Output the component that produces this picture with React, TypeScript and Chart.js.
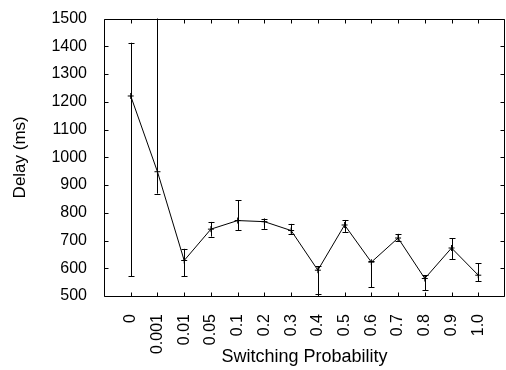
import React, { useEffect, useRef } from "react";
import { Chart, registerables } from "chart.js";

Chart.register(...registerables);

const categories = ["0", "0.001", "0.01", "0.05", "0.1", "0.2", "0.3", "0.4", "0.5", "0.6", "0.7", "0.8", "0.9", "1.0"];
const delay = [1221, 948, 628, 741, 772, 768, 736, 593, 756, 622, 709, 563, 673, 575];
const errLow = [571, 869, 571, 714, 738, 742, 724, 508, 731, 531, 700, 520, 632, 554];
const errHigh = [1413, 1560, 670, 767, 845, 779, 760, 607, 774, 627, 724, 574, 709, 618];
const yTicks = [500, 600, 700, 800, 900, 1000, 1100, 1200, 1300, 1400, 1500];

const FONT = "'Liberation Sans', Arial, Helvetica, sans-serif";

const framePlugin = {
  id: "frameTicks",
  afterDatasetsDraw(chart: any) {
    const { ctx, chartArea: a, scales } = chart;
    const xs = scales.x;
    const ys = scales.y;
    ctx.save();
    ctx.beginPath();
    ctx.rect(a.left, a.top, a.right - a.left, a.bottom - a.top);
    ctx.clip();
    ctx.strokeStyle = "#000";
    ctx.lineWidth = 1;
    const cap = 3;
    categories.forEach((_, i) => {
      const x = Math.round(xs.getPixelForValue(i)) + 0.5;
      const yl = ys.getPixelForValue(errLow[i]);
      const yh = ys.getPixelForValue(errHigh[i]);
      ctx.beginPath();
      ctx.moveTo(x, yl);
      ctx.lineTo(x, yh);
      ctx.moveTo(x - cap, Math.round(yl) + 0.5);
      ctx.lineTo(x + cap, Math.round(yl) + 0.5);
      ctx.moveTo(x - cap, Math.round(yh) + 0.5);
      ctx.lineTo(x + cap, Math.round(yh) + 0.5);
      ctx.stroke();
    });
    ctx.restore();

    ctx.save();
    ctx.strokeStyle = "#000";
    ctx.lineWidth = 1;
    const L = Math.round(a.left) + 0.5;
    const R = Math.round(a.right) - 0.5;
    const T = Math.round(a.top) + 0.5;
    const B = Math.round(a.bottom) + 0.5;
    ctx.beginPath();
    ctx.rect(L, T, R - L, B - T);
    const tl = 4;
    yTicks.forEach((v) => {
      const y = Math.round(ys.getPixelForValue(v)) + 0.5;
      ctx.moveTo(L, y);
      ctx.lineTo(L + tl, y);
      ctx.moveTo(R, y);
      ctx.lineTo(R - tl, y);
    });
    categories.forEach((_, i) => {
      const x = Math.round(xs.getPixelForValue(i)) + 0.5;
      ctx.moveTo(x, B);
      ctx.lineTo(x, B - tl);
      ctx.moveTo(x, T);
      ctx.lineTo(x, T + tl);
    });
    ctx.stroke();
    ctx.restore();
  },
};

export default function App() {
  const ref = useRef<HTMLCanvasElement>(null);
  useEffect(() => {
    document.body.style.margin = "0";
    document.body.style.overflow = "hidden";
    const canvas = ref.current;
    if (!canvas) return;
    const chart = new Chart(canvas, {
      type: "line",
      data: {
        datasets: [
          {
            data: delay.map((v, i) => ({ x: i, y: v })),
            borderColor: "#000",
            borderWidth: 1,
            pointStyle: "cross",
            pointRadius: 3,
            pointBorderColor: "#000",
            pointBorderWidth: 1,
            pointBackgroundColor: "#000",
            tension: 0,
            fill: false,
          },
        ],
      },
      options: {
        responsive: false,
        animation: false,
        events: [],
        layout: { padding: { left: 0, right: 3, top: 14, bottom: 0 } },
        plugins: { legend: { display: false }, tooltip: { enabled: false } },
        scales: {
          x: {
            type: "linear",
            min: -1,
            max: 14,
            grid: { display: false },
            border: { display: false },
            afterBuildTicks: (scale: any) => {
              scale.ticks = categories.map((_, i) => ({ value: i }));
            },
            afterFit: (scale: any) => {
              scale.height = 74;
            },
            ticks: {
              autoSkip: false,
              maxRotation: 90,
              minRotation: 90,
              padding: 10,
              color: "#000",
              font: { family: FONT, size: 16 },
              callback: (v: any) => categories[v] ?? "",
            },
            title: {
              display: true,
              text: "Switching Probability",
              color: "#000",
              font: { family: FONT, size: 18 },
              padding: { top: 0, bottom: 2 },
            },
          },
          y: {
            type: "linear",
            min: 500,
            max: 1500,
            grid: { display: false },
            border: { display: false },
            afterBuildTicks: (scale: any) => {
              scale.ticks = yTicks.map((v) => ({ value: v }));
            },
            afterFit: (scale: any) => {
              scale.width = 104;
            },
            ticks: {
              padding: 9,
              color: "#000",
              font: { family: FONT, size: 16 },
              callback: (v: any) => String(v),
            },
            title: {
              display: true,
              text: "Delay (ms)",
              color: "#000",
              font: { family: FONT, size: 17 },
              padding: { top: 10, bottom: 0 },
            },
          },
        },
      },
      plugins: [framePlugin],
    } as any);
    return () => chart.destroy();
  }, []);
  return (
    <div style={{ width: 510, height: 370, background: "#fff" }}>
      <canvas ref={ref} width={510} height={370} style={{ display: "block" }} />
    </div>
  );
}
